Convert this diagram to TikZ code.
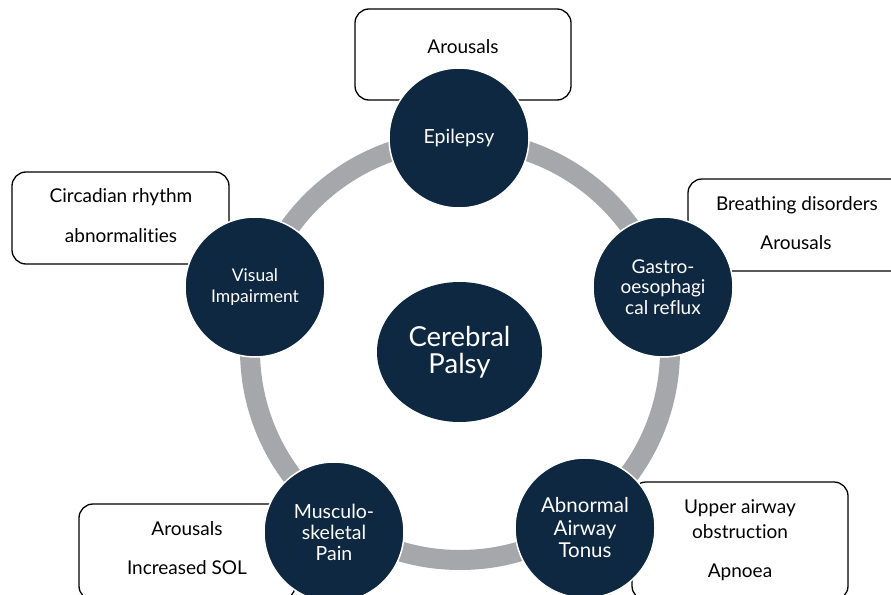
\documentclass[tikz,border=0pt]{standalone}
\usepackage{fontspec}
\usetikzlibrary{shapes.geometric}
\setmainfont{Lato}[Ligatures=NoCommon]
\definecolor{navy}{HTML}{0E2841}
\definecolor{ringgrey}{HTML}{A6A7AB}
\begin{document}
\begin{tikzpicture}[x=1pt,y=-1pt,
  topic/.style={circle, fill=navy, draw=white, line width=1.5pt, minimum size=140pt,
    inner sep=0pt, text=white, align=center, font=\fontsize{19.5}{21.5}\selectfont},
  infobox/.style={draw=black, line width=1.3pt, rounded corners=14pt, fill=white,
    inner sep=0pt},
  infotext/.style={font=\fontsize{19}{22}\selectfont, text=black, inner sep=0pt, anchor=base}]
\useasboundingbox (0,0) rectangle (891,594);
\clip (0,0) rectangle (891,594);
% ring
\coordinate (rc) at (460,350);
\draw[ringgrey, line width=20pt] (rc) circle[radius=210pt];
% boxes
\node[infobox, minimum width=216pt, minimum height=91pt] (b1) at (463,54.5) {};
\node[infobox, minimum width=240pt, minimum height=92pt] (b2) at (808,225) {};
\node[infobox, minimum width=217pt, minimum height=92pt] (b3) at (120.5,218) {};
\node[infobox, minimum width=216pt, minimum height=118pt] (b4) at (740,541) {};
\node[infobox, minimum width=216pt, minimum height=96pt] (b5) at (187,552) {};
% box texts
\node[infotext] (t1) at (463,53) {Arousals};
\node[infotext] (t2a) at (797,210) {Breathing disorders};
\node[infotext] (t2b) at (796,249) {Arousals};
\node[infotext] (t3a) at (121,202) {Circadian rhythm};
\node[infotext] (t3b) at (121,242) {abnormalities};
\node[infotext] (t4a) at (740,513) {Upper airway};
\node[infotext] (t4b) at (740,538) {obstruction};
\node[infotext] (t4c) at (740,577) {Apnoea};
\node[infotext] (t5a) at (187,535) {Arousals};
\node[infotext] (t5b) at (187,574) {Increased SOL};
% topic circles
\node[topic] (epi) at (459,138) {Epilepsy};
\node[topic, font=\fontsize{19}{20.5}\selectfont] (gor) at (663,287) {Gastro-\\oesophagi\\cal reflux};
\node[topic, font=\fontsize{20.5}{22.5}\selectfont] (aat) at (585,528) {Abnormal\\Airway\\Tonus};
\node[topic, font=\fontsize{19.5}{21}\selectfont] (msp) at (334,532) {Musculo-\\skeletal\\Pain};
\node[topic, font=\fontsize{17.5}{21}\selectfont] (vis) at (255,287) {Visual\\Impairment};
% centre
\node[ellipse, fill=navy, minimum width=165pt, minimum height=140pt, inner sep=0pt,
  text=white, align=center, font=\fontsize{27.5}{27}\selectfont] (cp) at (459.5,352) {Cerebral\\Palsy};
\end{tikzpicture}
\end{document}
